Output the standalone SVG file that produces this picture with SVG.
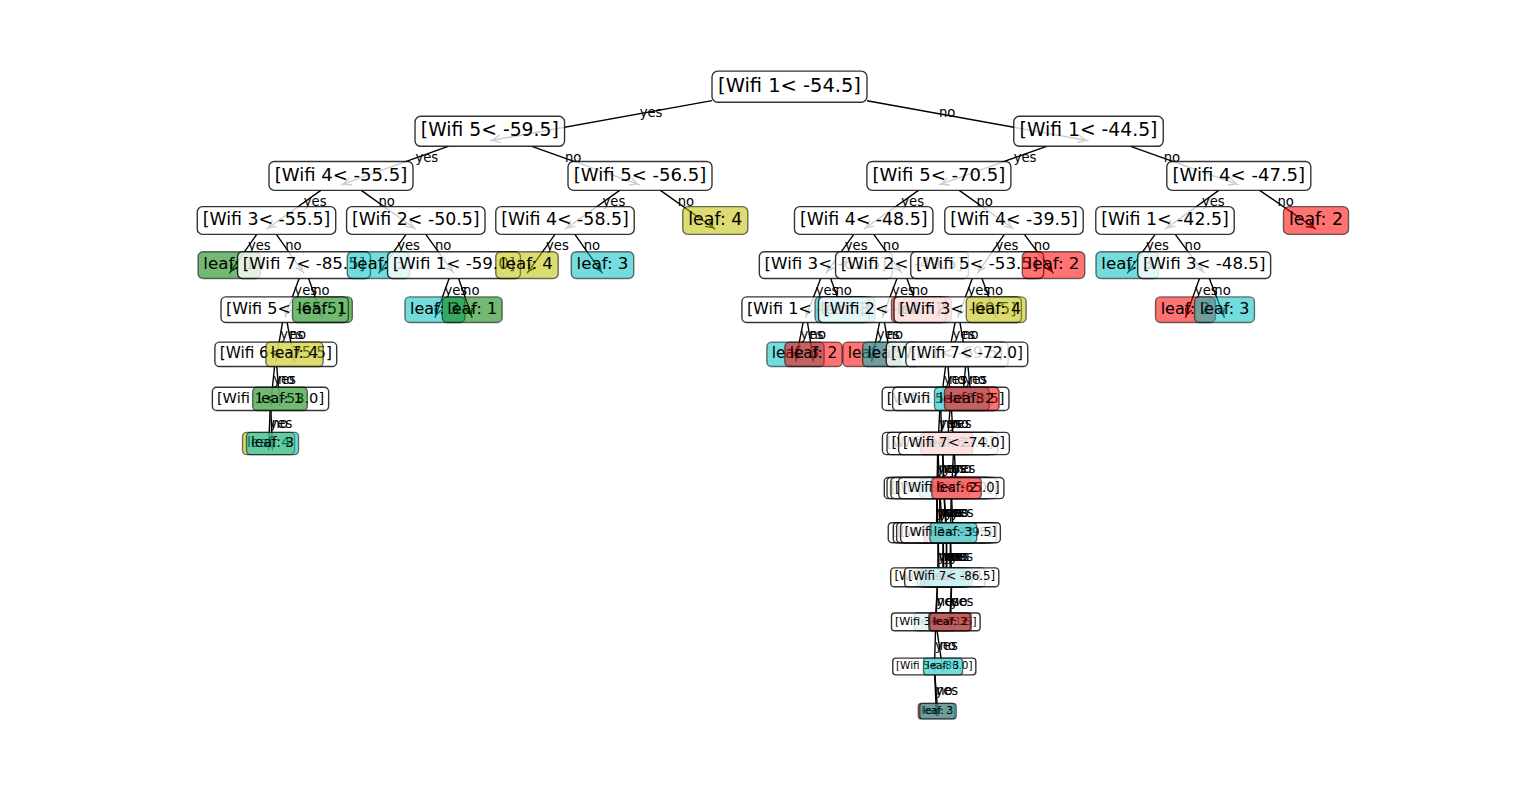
<svg xmlns="http://www.w3.org/2000/svg" width="1540" height="805" viewBox="0 0 1540 805">
<style>
.e line{stroke:#000;stroke-width:1.39;fill:none}
.mk{stroke:#000;stroke-width:1.39;fill:none}
.lb{font-family:'DejaVu Sans','Liberation Sans',sans-serif;font-size:13.2px;fill:#000}
.ni{fill:#fff;fill-opacity:.8;stroke:#000;stroke-opacity:.8;stroke-width:1.39}
.k1,.k2,.k3,.k4{fill-opacity:.55;stroke:#000;stroke-opacity:.55;stroke-width:1.39}
.k1{fill:#008000}.k2{fill:#ff0000}.k3{fill:#00bfbf}.k4{fill:#bfbf00}
.tx{font-family:'DejaVu Sans','Liberation Sans',sans-serif;text-anchor:middle;fill:#000}
.f1{font-size:19.44px}.f2{font-size:18.75px}.f3{font-size:18.06px}.f4{font-size:17.36px}.f5{font-size:16.67px}
.f6{font-size:15.97px}.f7{font-size:15.28px}.f8{font-size:14.58px}.f9{font-size:13.89px}.f10{font-size:13.19px}
.f11{font-size:12.5px}.f12{font-size:11.81px}.f13{font-size:11.11px}.f14{font-size:10.42px}.f15{font-size:9.72px}
</style>
<defs>
<marker id="m1" markerUnits="userSpaceOnUse" viewBox="-14 -6 16 12" markerWidth="16" markerHeight="12" refX="0" refY="0" orient="auto"><path class="mk" d="M-10.56,-3.89L-2.78,0L-10.56,3.89"/></marker>
<marker id="m2" markerUnits="userSpaceOnUse" viewBox="-14 -6 16 12" markerWidth="16" markerHeight="12" refX="0" refY="0" orient="auto"><path class="mk" d="M-10.28,-3.75L-2.78,0L-10.28,3.75"/></marker>
<marker id="m3" markerUnits="userSpaceOnUse" viewBox="-14 -6 16 12" markerWidth="16" markerHeight="12" refX="0" refY="0" orient="auto"><path class="mk" d="M-10,-3.61L-2.78,0L-10,3.61"/></marker>
<marker id="m4" markerUnits="userSpaceOnUse" viewBox="-14 -6 16 12" markerWidth="16" markerHeight="12" refX="0" refY="0" orient="auto"><path class="mk" d="M-9.72,-3.47L-2.78,0L-9.72,3.47"/></marker>
<marker id="m5" markerUnits="userSpaceOnUse" viewBox="-14 -6 16 12" markerWidth="16" markerHeight="12" refX="0" refY="0" orient="auto"><path class="mk" d="M-9.45,-3.33L-2.78,0L-9.45,3.33"/></marker>
<marker id="m6" markerUnits="userSpaceOnUse" viewBox="-14 -6 16 12" markerWidth="16" markerHeight="12" refX="0" refY="0" orient="auto"><path class="mk" d="M-9.17,-3.19L-2.78,0L-9.17,3.19"/></marker>
<marker id="m7" markerUnits="userSpaceOnUse" viewBox="-14 -6 16 12" markerWidth="16" markerHeight="12" refX="0" refY="0" orient="auto"><path class="mk" d="M-8.89,-3.06L-2.78,0L-8.89,3.06"/></marker>
<marker id="m8" markerUnits="userSpaceOnUse" viewBox="-14 -6 16 12" markerWidth="16" markerHeight="12" refX="0" refY="0" orient="auto"><path class="mk" d="M-8.61,-2.92L-2.78,0L-8.61,2.92"/></marker>
<marker id="m9" markerUnits="userSpaceOnUse" viewBox="-14 -6 16 12" markerWidth="16" markerHeight="12" refX="0" refY="0" orient="auto"><path class="mk" d="M-8.34,-2.78L-2.78,0L-8.34,2.78"/></marker>
<marker id="m10" markerUnits="userSpaceOnUse" viewBox="-14 -6 16 12" markerWidth="16" markerHeight="12" refX="0" refY="0" orient="auto"><path class="mk" d="M-8.06,-2.64L-2.78,0L-8.06,2.64"/></marker>
<marker id="m11" markerUnits="userSpaceOnUse" viewBox="-14 -6 16 12" markerWidth="16" markerHeight="12" refX="0" refY="0" orient="auto"><path class="mk" d="M-7.78,-2.5L-2.78,0L-7.78,2.5"/></marker>
<marker id="m12" markerUnits="userSpaceOnUse" viewBox="-14 -6 16 12" markerWidth="16" markerHeight="12" refX="0" refY="0" orient="auto"><path class="mk" d="M-7.5,-2.36L-2.78,0L-7.5,2.36"/></marker>
<marker id="m13" markerUnits="userSpaceOnUse" viewBox="-14 -6 16 12" markerWidth="16" markerHeight="12" refX="0" refY="0" orient="auto"><path class="mk" d="M-7.22,-2.22L-2.78,0L-7.22,2.22"/></marker>
<marker id="m14" markerUnits="userSpaceOnUse" viewBox="-14 -6 16 12" markerWidth="16" markerHeight="12" refX="0" refY="0" orient="auto"><path class="mk" d="M-6.95,-2.08L-2.78,0L-6.95,2.08"/></marker>
</defs>
<rect width="1540" height="805" fill="#fff"/>
<g id="connectors" class="e">
<g marker-end="url(#m1)">
<line x1="712.0" y1="100.66" x2="489.8" y2="140.7"/>
<line x1="867.0" y1="100.7" x2="1088.5" y2="140.7"/>
</g>
<g marker-end="url(#m2)">
<line x1="448.1" y1="146.3" x2="341.0" y2="184.9"/>
<line x1="531.9" y1="146.3" x2="640.0" y2="184.9"/>
<line x1="1046.6" y1="146.3" x2="938.9" y2="184.9"/>
<line x1="1130.6" y1="146.3" x2="1238.8" y2="184.9"/>
</g>
<g marker-end="url(#m3)">
<line x1="320.8" y1="190.34" x2="266.5" y2="229.2"/>
<line x1="361.3" y1="190.34" x2="415.8" y2="229.2"/>
<line x1="619.7" y1="190.34" x2="565.0" y2="229.2"/>
<line x1="660.4" y1="190.34" x2="715.3" y2="229.2"/>
<line x1="918.5" y1="190.34" x2="863.7" y2="229.2"/>
<line x1="959.25" y1="190.34" x2="1014.0" y2="229.2"/>
<line x1="1218.8" y1="190.34" x2="1165.0" y2="229.2"/>
<line x1="1259.7" y1="190.34" x2="1316.0" y2="229.2"/>
</g>
<g marker-end="url(#m4)">
<line x1="256.7" y1="234.39" x2="229.3" y2="273.4"/>
<line x1="276.35" y1="234.39" x2="304.0" y2="273.4"/>
<line x1="406.0" y1="234.39" x2="378.5" y2="273.4"/>
<line x1="425.8" y1="234.39" x2="454.0" y2="273.4"/>
<line x1="555.0" y1="234.39" x2="527.0" y2="273.4"/>
<line x1="574.85" y1="234.39" x2="602.5" y2="273.4"/>
<line x1="853.75" y1="234.39" x2="825.8" y2="273.4"/>
<line x1="873.76" y1="234.39" x2="902.0" y2="273.4"/>
<line x1="1004.34" y1="234.39" x2="977.2" y2="273.4"/>
<line x1="1024.37" y1="234.39" x2="1053.5" y2="273.4"/>
<line x1="1155.07" y1="234.39" x2="1127.2" y2="273.4"/>
<line x1="1175.29" y1="234.39" x2="1204.2" y2="273.4"/>
</g>
<g marker-end="url(#m5)">
<line x1="299.1" y1="278.43" x2="284.7" y2="317.7"/>
<line x1="308.66" y1="278.43" x2="322.4" y2="317.7"/>
<line x1="449.16" y1="278.43" x2="434.9" y2="317.7"/>
<line x1="458.61" y1="278.43" x2="472.2" y2="317.7"/>
<line x1="820.68" y1="278.43" x2="805.6" y2="317.7"/>
<line x1="830.67" y1="278.43" x2="845.0" y2="317.7"/>
<line x1="896.98" y1="278.43" x2="882.2" y2="317.7"/>
<line x1="906.92" y1="278.43" x2="921.4" y2="317.7"/>
<line x1="972.26" y1="278.43" x2="957.7" y2="317.7"/>
<line x1="982.01" y1="278.43" x2="996.2" y2="317.7"/>
<line x1="1199.46" y1="278.43" x2="1185.5" y2="317.7"/>
<line x1="1209.34" y1="278.43" x2="1224.5" y2="317.7"/>
</g>
<g marker-end="url(#m6)">
<line x1="282.52" y1="322.48" x2="275.8" y2="361.9"/>
<line x1="287.1" y1="322.48" x2="294.5" y2="361.9"/>
<line x1="803.13" y1="322.48" x2="795.5" y2="361.9"/>
<line x1="807.53" y1="322.48" x2="813.5" y2="361.9"/>
<line x1="879.58" y1="322.48" x2="871.5" y2="361.9"/>
<line x1="884.43" y1="322.48" x2="891.3" y2="361.9"/>
<line x1="955.13" y1="322.48" x2="947.2" y2="361.9"/>
<line x1="959.93" y1="322.48" x2="966.8" y2="361.9"/>
</g>
<g marker-end="url(#m7)">
<line x1="274.55" y1="366.52" x2="270.5" y2="406.2"/>
<line x1="276.79" y1="366.52" x2="280.0" y2="406.2"/>
<line x1="945.58" y1="366.52" x2="940.3" y2="406.2"/>
<line x1="948.05" y1="366.52" x2="950.8" y2="406.2"/>
<line x1="965.62" y1="366.52" x2="961.8" y2="406.2"/>
<line x1="967.98" y1="366.52" x2="971.8" y2="406.2"/>
</g>
<g marker-end="url(#m8)">
<line x1="270.07" y1="410.57" x2="268.6" y2="450.4"/>
<line x1="270.95" y1="410.57" x2="272.5" y2="450.4"/>
<line x1="939.73" y1="410.57" x2="937.8" y2="450.4"/>
<line x1="940.78" y1="410.57" x2="942.4" y2="450.4"/>
<line x1="949.89" y1="410.57" x2="946.8" y2="450.4"/>
<line x1="951.53" y1="410.57" x2="954.0" y2="450.4"/>
</g>
<g marker-end="url(#m9)">
<line x1="937.6" y1="454.61" x2="936.9" y2="494.7"/>
<line x1="938.2" y1="454.61" x2="939.6" y2="494.7"/>
<line x1="942.7" y1="454.61" x2="943.6" y2="494.7"/>
<line x1="942.9" y1="454.61" x2="944.5" y2="494.7"/>
<line x1="953.4" y1="454.61" x2="951.3" y2="494.7"/>
<line x1="954.5" y1="454.61" x2="956.5" y2="494.7"/>
</g>
<g marker-end="url(#m10)">
<line x1="936.8" y1="498.66" x2="936.5" y2="539.0"/>
<line x1="937.15" y1="498.66" x2="938.1" y2="539.0"/>
<line x1="939.7" y1="498.66" x2="940.0" y2="539.0"/>
<line x1="940.3" y1="498.66" x2="943.1" y2="539.0"/>
<line x1="944.2" y1="498.66" x2="946.5" y2="539.0"/>
<line x1="944.4" y1="498.66" x2="947.5" y2="539.0"/>
<line x1="951.1" y1="498.66" x2="950.5" y2="539.0"/>
<line x1="951.7" y1="498.66" x2="953.3" y2="539.0"/>
</g>
<g marker-end="url(#m11)">
<line x1="938.0" y1="542.7" x2="937.8" y2="583.2"/>
<line x1="938.3" y1="542.7" x2="939.3" y2="583.2"/>
<line x1="943.0" y1="542.7" x2="942.8" y2="583.2"/>
<line x1="943.3" y1="542.7" x2="944.0" y2="583.2"/>
<line x1="946.4" y1="542.7" x2="946.2" y2="583.2"/>
<line x1="946.6" y1="542.7" x2="947.0" y2="583.2"/>
<line x1="950.4" y1="542.7" x2="950.0" y2="583.2"/>
<line x1="950.7" y1="542.7" x2="951.7" y2="583.2"/>
</g>
<g marker-end="url(#m12)">
<line x1="937.3" y1="586.74" x2="935.0" y2="627.5"/>
<line x1="937.4" y1="586.74" x2="935.8" y2="627.5"/>
<line x1="951.3" y1="586.74" x2="949.5" y2="627.5"/>
<line x1="951.5" y1="586.74" x2="950.5" y2="627.5"/>
</g>
<g marker-end="url(#m13)">
<line x1="935.5" y1="630.79" x2="934.3" y2="671.7"/>
<line x1="937.1" y1="630.79" x2="943.0" y2="671.7"/>
</g>
<g marker-end="url(#m14)">
<line x1="934.7" y1="674.83" x2="936.5" y2="716.0"/>
<line x1="934.9" y1="674.83" x2="938.0" y2="716.0"/>
</g>
<g id="edge-labels" class="lb">
<text x="639.65" y="117.1">yes</text><text x="939.0" y="117.1">no</text>
<text x="415.4" y="161.5">yes</text><text x="564.9" y="161.5">no</text><text x="1013.7" y="161.5">yes</text><text x="1163.65" y="161.5">no</text>
<text x="303.75" y="205.95">yes</text><text x="378.4" y="205.95">no</text><text x="602.5" y="205.95">yes</text><text x="677.65" y="205.95">no</text><text x="901.3" y="205.95">yes</text><text x="976.45" y="205.95">no</text><text x="1201.9" y="205.95">yes</text><text x="1277.4" y="205.95">no</text>
<text x="247.9" y="250.35">yes</text><text x="285.25" y="250.35">no</text><text x="397.15" y="250.35">yes</text><text x="434.9" y="250.35">no</text><text x="546.0" y="250.35">yes</text><text x="583.75" y="250.35">no</text><text x="844.75" y="250.35">yes</text><text x="882.85" y="250.35">no</text><text x="995.6" y="250.35">yes</text><text x="1033.75" y="250.35">no</text><text x="1146.1" y="250.35">yes</text><text x="1184.6" y="250.35">no</text>
<text x="294.35" y="294.8">yes</text><text x="313.2" y="294.8">no</text><text x="444.45" y="294.8">yes</text><text x="463.1" y="294.8">no</text><text x="815.7" y="294.8">yes</text><text x="835.4" y="294.8">no</text><text x="892.1" y="294.8">yes</text><text x="911.7" y="294.8">no</text><text x="967.45" y="294.8">yes</text><text x="986.7" y="294.8">no</text><text x="1194.85" y="294.8">yes</text><text x="1214.35" y="294.8">no</text>
<text x="280.25" y="339.2">yes</text><text x="289.6" y="339.2">no</text><text x="800.55" y="339.2">yes</text><text x="809.55" y="339.2">no</text><text x="876.85" y="339.2">yes</text><text x="886.75" y="339.2">no</text><text x="952.45" y="339.2">yes</text><text x="962.25" y="339.2">no</text>
<text x="273.15" y="383.65">yes</text><text x="277.9" y="383.65">no</text><text x="943.75" y="383.65">yes</text><text x="949.0" y="383.65">no</text><text x="964.3" y="383.65">yes</text><text x="969.3" y="383.65">no</text>
<text x="269.55" y="428.05">yes</text><text x="271.5" y="428.05">no</text><text x="939.05" y="428.05">yes</text><text x="941.35" y="428.05">no</text><text x="948.8" y="428.05">yes</text><text x="952.4" y="428.05">no</text>
<text x="937.35" y="472.5">yes</text><text x="938.7" y="472.5">no</text><text x="943.0" y="472.5">yes</text><text x="943.45" y="472.5">no</text><text x="952.65" y="472.5">yes</text><text x="955.25" y="472.5">no</text>
<text x="936.7" y="516.95">yes</text><text x="937.5" y="516.95">no</text><text x="939.8" y="516.95">yes</text><text x="941.35" y="516.95">no</text><text x="945.05" y="516.95">yes</text><text x="945.55" y="516.95">no</text><text x="950.9" y="516.95">yes</text><text x="952.3" y="516.95">no</text>
<text x="937.95" y="561.35">yes</text><text x="938.7" y="561.35">no</text><text x="942.95" y="561.35">yes</text><text x="943.55" y="561.35">no</text><text x="946.35" y="561.35">yes</text><text x="946.75" y="561.35">no</text><text x="950.25" y="561.35">yes</text><text x="951.1" y="561.35">no</text>
<text x="936.4" y="605.8">yes</text><text x="936.8" y="605.8">no</text><text x="950.6" y="605.8">yes</text><text x="951.1" y="605.8">no</text>
<text x="935.05" y="650.2">yes</text><text x="939.4" y="650.2">no</text>
<text x="935.4" y="694.65">yes</text><text x="936.15" y="694.65">no</text>
</g>
</g>
<g id="nodes">
<g id="n1"><rect class="ni" x="712.0" y="71.14" width="155.0" height="31.11" rx="5.83"/><text class="tx f1" x="789.5" y="91.76">[Wifi 1&lt; -54.5]</text></g>
<g id="n2"><rect class="ni" x="415.04" y="116.3" width="149.52" height="30.0" rx="5.63"/><text class="tx f2" x="489.8" y="136.18">[Wifi 5&lt; -59.5]</text></g>
<g id="n3"><rect class="ni" x="1013.74" y="116.3" width="149.52" height="30.0" rx="5.63"/><text class="tx f2" x="1088.5" y="136.18">[Wifi 1&lt; -44.5]</text></g>
<g id="n4"><rect class="ni" x="269.0" y="161.46" width="144.0" height="28.89" rx="5.42"/><text class="tx f3" x="341.0" y="180.59">[Wifi 4&lt; -55.5]</text></g>
<g id="n5"><rect class="ni" x="568.0" y="161.46" width="144.0" height="28.89" rx="5.42"/><text class="tx f3" x="640.0" y="180.59">[Wifi 5&lt; -56.5]</text></g>
<g id="n6"><rect class="ni" x="866.9" y="161.46" width="144.0" height="28.89" rx="5.42"/><text class="tx f3" x="938.9" y="180.59">[Wifi 5&lt; -70.5]</text></g>
<g id="n7"><rect class="ni" x="1166.8" y="161.46" width="144.0" height="28.89" rx="5.42"/><text class="tx f3" x="1238.8" y="180.59">[Wifi 4&lt; -47.5]</text></g>
<g id="n8"><rect class="ni" x="197.28" y="206.61" width="138.44" height="27.78" rx="5.21"/><text class="tx f4" x="266.5" y="225.01">[Wifi 3&lt; -55.5]</text></g>
<g id="n9"><rect class="ni" x="346.58" y="206.61" width="138.44" height="27.78" rx="5.21"/><text class="tx f4" x="415.8" y="225.01">[Wifi 2&lt; -50.5]</text></g>
<g id="n10"><rect class="ni" x="495.78" y="206.61" width="138.44" height="27.78" rx="5.21"/><text class="tx f4" x="565.0" y="225.01">[Wifi 4&lt; -58.5]</text></g>
<g id="n11"><rect class="k4" x="682.75" y="206.61" width="65.1" height="27.78" rx="5.21"/><text class="tx f4" x="715.3" y="225.01">leaf: 4</text></g>
<g id="n12"><rect class="ni" x="794.48" y="206.61" width="138.44" height="27.78" rx="5.21"/><text class="tx f4" x="863.7" y="225.01">[Wifi 4&lt; -48.5]</text></g>
<g id="n13"><rect class="ni" x="944.78" y="206.61" width="138.44" height="27.78" rx="5.21"/><text class="tx f4" x="1014.0" y="225.01">[Wifi 4&lt; -39.5]</text></g>
<g id="n14"><rect class="ni" x="1095.78" y="206.61" width="138.44" height="27.78" rx="5.21"/><text class="tx f4" x="1165.0" y="225.01">[Wifi 1&lt; -42.5]</text></g>
<g id="n15"><rect class="k2" x="1283.45" y="206.61" width="65.1" height="27.78" rx="5.21"/><text class="tx f4" x="1316.0" y="225.01">leaf: 2</text></g>
<g id="n16"><rect class="k1" x="198.06" y="251.77" width="62.48" height="26.67" rx="5.0"/><text class="tx f5" x="229.3" y="269.43">leaf: 1</text></g>
<g id="n17"><rect class="ni" x="237.55" y="251.77" width="132.9" height="26.67" rx="5.0"/><text class="tx f5" x="304.0" y="269.43">[Wifi 7&lt; -85.5]</text></g>
<g id="n18"><rect class="k3" x="347.26" y="251.77" width="62.48" height="26.67" rx="5.0"/><text class="tx f5" x="378.5" y="269.43">leaf: 3</text></g>
<g id="n19"><rect class="ni" x="387.55" y="251.77" width="132.9" height="26.67" rx="5.0"/><text class="tx f5" x="454.0" y="269.43">[Wifi 1&lt; -59.0]</text></g>
<g id="n20"><rect class="k4" x="495.76" y="251.77" width="62.48" height="26.67" rx="5.0"/><text class="tx f5" x="527.0" y="269.43">leaf: 4</text></g>
<g id="n21"><rect class="k3" x="571.26" y="251.77" width="62.48" height="26.67" rx="5.0"/><text class="tx f5" x="602.5" y="269.43">leaf: 3</text></g>
<g id="n22"><rect class="ni" x="759.35" y="251.77" width="132.9" height="26.67" rx="5.0"/><text class="tx f5" x="825.8" y="269.43">[Wifi 3&lt; -63.5]</text></g>
<g id="n23"><rect class="ni" x="835.55" y="251.77" width="132.9" height="26.67" rx="5.0"/><text class="tx f5" x="902.0" y="269.43">[Wifi 2&lt; -49.5]</text></g>
<g id="n24"><rect class="ni" x="910.75" y="251.77" width="132.9" height="26.67" rx="5.0"/><text class="tx f5" x="977.2" y="269.43">[Wifi 5&lt; -53.5]</text></g>
<g id="n25"><rect class="k2" x="1022.26" y="251.77" width="62.48" height="26.67" rx="5.0"/><text class="tx f5" x="1053.5" y="269.43">leaf: 2</text></g>
<g id="n26"><rect class="k3" x="1095.96" y="251.77" width="62.48" height="26.67" rx="5.0"/><text class="tx f5" x="1127.2" y="269.43">leaf: 3</text></g>
<g id="n27"><rect class="ni" x="1137.75" y="251.77" width="132.9" height="26.67" rx="5.0"/><text class="tx f5" x="1204.2" y="269.43">[Wifi 3&lt; -48.5]</text></g>
<g id="n28"><rect class="ni" x="221.02" y="296.92" width="127.36" height="25.56" rx="4.79"/><text class="tx f6" x="284.7" y="313.85">[Wifi 5&lt; -65.5]</text></g>
<g id="n29"><rect class="k1" x="292.46" y="296.92" width="59.88" height="25.56" rx="4.79"/><text class="tx f6" x="322.4" y="313.85">leaf: 1</text></g>
<g id="n30"><rect class="k3" x="404.96" y="296.92" width="59.88" height="25.56" rx="4.79"/><text class="tx f6" x="434.9" y="313.85">leaf: 3</text></g>
<g id="n31"><rect class="k1" x="442.26" y="296.92" width="59.88" height="25.56" rx="4.79"/><text class="tx f6" x="472.2" y="313.85">leaf: 1</text></g>
<g id="n32"><rect class="ni" x="741.92" y="296.92" width="127.36" height="25.56" rx="4.79"/><text class="tx f6" x="805.6" y="313.85">[Wifi 1&lt; -75.5]</text></g>
<g id="n33"><rect class="k3" x="815.06" y="296.92" width="59.88" height="25.56" rx="4.79"/><text class="tx f6" x="845.0" y="313.85">leaf: 3</text></g>
<g id="n34"><rect class="ni" x="818.52" y="296.92" width="127.36" height="25.56" rx="4.79"/><text class="tx f6" x="882.2" y="313.85">[Wifi 2&lt; -57.5]</text></g>
<g id="n35"><rect class="k2" x="891.46" y="296.92" width="59.88" height="25.56" rx="4.79"/><text class="tx f6" x="921.4" y="313.85">leaf: 2</text></g>
<g id="n36"><rect class="ni" x="894.02" y="296.92" width="127.36" height="25.56" rx="4.79"/><text class="tx f6" x="957.7" y="313.85">[Wifi 3&lt; -60.5]</text></g>
<g id="n37"><rect class="k4" x="966.26" y="296.92" width="59.88" height="25.56" rx="4.79"/><text class="tx f6" x="996.2" y="313.85">leaf: 4</text></g>
<g id="n38"><rect class="k2" x="1155.56" y="296.92" width="59.88" height="25.56" rx="4.79"/><text class="tx f6" x="1185.5" y="313.85">leaf: 2</text></g>
<g id="n39"><rect class="k3" x="1194.56" y="296.92" width="59.88" height="25.56" rx="4.79"/><text class="tx f6" x="1224.5" y="313.85">leaf: 3</text></g>
<g id="n40"><rect class="ni" x="214.89" y="342.08" width="121.82" height="24.44" rx="4.58"/><text class="tx f7" x="275.8" y="358.27">[Wifi 6&lt; -75.5]</text></g>
<g id="n41"><rect class="k4" x="265.86" y="342.08" width="57.28" height="24.44" rx="4.58"/><text class="tx f7" x="294.5" y="358.27">leaf: 4</text></g>
<g id="n42"><rect class="k3" x="766.86" y="342.08" width="57.28" height="24.44" rx="4.58"/><text class="tx f7" x="795.5" y="358.27">leaf: 3</text></g>
<g id="n43"><rect class="k2" x="784.86" y="342.08" width="57.28" height="24.44" rx="4.58"/><text class="tx f7" x="813.5" y="358.27">leaf: 2</text></g>
<g id="n44"><rect class="k2" x="842.86" y="342.08" width="57.28" height="24.44" rx="4.58"/><text class="tx f7" x="871.5" y="358.27">leaf: 2</text></g>
<g id="n45"><rect class="k3" x="862.66" y="342.08" width="57.28" height="24.44" rx="4.58"/><text class="tx f7" x="891.3" y="358.27">leaf: 3</text></g>
<g id="n46"><rect class="ni" x="886.29" y="342.08" width="121.82" height="24.44" rx="4.58"/><text class="tx f7" x="947.2" y="358.27">[Wifi 1&lt; -69.5]</text></g>
<g id="n47"><rect class="ni" x="905.89" y="342.08" width="121.82" height="24.44" rx="4.58"/><text class="tx f7" x="966.8" y="358.27">[Wifi 7&lt; -72.0]</text></g>
<g id="n48"><rect class="ni" x="212.36" y="387.23" width="116.28" height="23.33" rx="4.38"/><text class="tx f8" x="270.5" y="402.69">[Wifi 1&lt; -53.0]</text></g>
<g id="n49"><rect class="k1" x="252.66" y="387.23" width="54.68" height="23.33" rx="4.38"/><text class="tx f8" x="280.0" y="402.69">leaf: 1</text></g>
<g id="n50"><rect class="ni" x="882.16" y="387.23" width="116.28" height="23.33" rx="4.38"/><text class="tx f8" x="940.3" y="402.69">[Wifi 1&lt; -80.5]</text></g>
<g id="n51"><rect class="ni" x="892.66" y="387.23" width="116.28" height="23.33" rx="4.38"/><text class="tx f8" x="950.8" y="402.69">[Wifi 5&lt; -58.5]</text></g>
<g id="n52"><rect class="k3" x="934.46" y="387.23" width="54.68" height="23.33" rx="4.38"/><text class="tx f8" x="961.8" y="402.69">leaf: 3</text></g>
<g id="n53"><rect class="k2" x="944.46" y="387.23" width="54.68" height="23.33" rx="4.38"/><text class="tx f8" x="971.8" y="402.69">leaf: 2</text></g>
<g id="n54"><rect class="k4" x="242.57" y="432.39" width="52.06" height="22.22" rx="4.17"/><text class="tx f9" x="268.6" y="447.11">leaf: 4</text></g>
<g id="n55"><rect class="k3" x="246.47" y="432.39" width="52.06" height="22.22" rx="4.17"/><text class="tx f9" x="272.5" y="447.11">leaf: 3</text></g>
<g id="n56"><rect class="ni" x="882.43" y="432.39" width="110.74" height="22.22" rx="4.17"/><text class="tx f9" x="937.8" y="447.11">[Wifi 2&lt; -66.5]</text></g>
<g id="n57"><rect class="ni" x="887.03" y="432.39" width="110.74" height="22.22" rx="4.17"/><text class="tx f9" x="942.4" y="447.11">[Wifi 6&lt; -62.0]</text></g>
<g id="n58"><rect class="k2" x="920.77" y="432.39" width="52.06" height="22.22" rx="4.17"/><text class="tx f9" x="946.8" y="447.11">leaf: 2</text></g>
<g id="n59"><rect class="ni" x="898.63" y="432.39" width="110.74" height="22.22" rx="4.17"/><text class="tx f9" x="954.0" y="447.11">[Wifi 7&lt; -74.0]</text></g>
<g id="n60"><rect class="ni" x="884.3" y="477.54" width="105.2" height="21.11" rx="3.96"/><text class="tx f10" x="936.9" y="491.53">[Wifi 1&lt; -58.5]</text></g>
<g id="n61"><rect class="ni" x="887.0" y="477.54" width="105.2" height="21.11" rx="3.96"/><text class="tx f10" x="939.6" y="491.53">[Wifi 4&lt; -60.5]</text></g>
<g id="n62"><rect class="ni" x="891.0" y="477.54" width="105.2" height="21.11" rx="3.96"/><text class="tx f10" x="943.6" y="491.53">[Wifi 5&lt; -78.0]</text></g>
<g id="n63"><rect class="k3" x="919.77" y="477.54" width="49.46" height="21.11" rx="3.96"/><text class="tx f10" x="944.5" y="491.53">leaf: 3</text></g>
<g id="n64"><rect class="ni" x="898.7" y="477.54" width="105.2" height="21.11" rx="3.96"/><text class="tx f10" x="951.3" y="491.53">[Wifi 6&lt; -65.0]</text></g>
<g id="n65"><rect class="k2" x="931.77" y="477.54" width="49.46" height="21.11" rx="3.96"/><text class="tx f10" x="956.5" y="491.53">leaf: 2</text></g>
<g id="n66"><rect class="k2" x="913.07" y="522.7" width="46.86" height="20.0" rx="3.75"/><text class="tx f11" x="936.5" y="535.95">leaf: 2</text></g>
<g id="n67"><rect class="ni" x="888.26" y="522.7" width="99.68" height="20.0" rx="3.75"/><text class="tx f11" x="938.1" y="535.95">[Wifi 7&lt; -81.5]</text></g>
<g id="n68"><rect class="k3" x="916.57" y="522.7" width="46.86" height="20.0" rx="3.75"/><text class="tx f11" x="940.0" y="535.95">leaf: 3</text></g>
<g id="n69"><rect class="ni" x="893.26" y="522.7" width="99.68" height="20.0" rx="3.75"/><text class="tx f11" x="943.1" y="535.95">[Wifi 3&lt; -57.0]</text></g>
<g id="n70"><rect class="ni" x="896.66" y="522.7" width="99.68" height="20.0" rx="3.75"/><text class="tx f11" x="946.5" y="535.95">[Wifi 1&lt; -61.5]</text></g>
<g id="n71"><rect class="k2" x="924.07" y="522.7" width="46.86" height="20.0" rx="3.75"/><text class="tx f11" x="947.5" y="535.95">leaf: 2</text></g>
<g id="n72"><rect class="ni" x="900.66" y="522.7" width="99.68" height="20.0" rx="3.75"/><text class="tx f11" x="950.5" y="535.95">[Wifi 3&lt; -39.5]</text></g>
<g id="n73"><rect class="k3" x="929.87" y="522.7" width="46.86" height="20.0" rx="3.75"/><text class="tx f11" x="953.3" y="535.95">leaf: 3</text></g>
<g id="n74"><rect class="ni" x="890.73" y="567.86" width="94.14" height="18.89" rx="3.54"/><text class="tx f12" x="937.8" y="580.37">[Wifi 1&lt; -63.0]</text></g>
<g id="n75"><rect class="k3" x="917.17" y="567.86" width="44.26" height="18.89" rx="3.54"/><text class="tx f12" x="939.3" y="580.37">leaf: 3</text></g>
<g id="n76"><rect class="k3" x="920.67" y="567.86" width="44.26" height="18.89" rx="3.54"/><text class="tx f12" x="942.8" y="580.37">leaf: 3</text></g>
<g id="n77"><rect class="k3" x="921.87" y="567.86" width="44.26" height="18.89" rx="3.54"/><text class="tx f12" x="944.0" y="580.37">leaf: 3</text></g>
<g id="n78"><rect class="k3" x="924.07" y="567.86" width="44.26" height="18.89" rx="3.54"/><text class="tx f12" x="946.2" y="580.37">leaf: 3</text></g>
<g id="n79"><rect class="k3" x="924.87" y="567.86" width="44.26" height="18.89" rx="3.54"/><text class="tx f12" x="947.0" y="580.37">leaf: 3</text></g>
<g id="n80"><rect class="k3" x="927.87" y="567.86" width="44.26" height="18.89" rx="3.54"/><text class="tx f12" x="950.0" y="580.37">leaf: 3</text></g>
<g id="n81"><rect class="ni" x="904.63" y="567.86" width="94.14" height="18.89" rx="3.54"/><text class="tx f12" x="951.7" y="580.37">[Wifi 7&lt; -86.5]</text></g>
<g id="n82"><rect class="k3" x="914.17" y="613.01" width="41.66" height="17.78" rx="3.33"/><text class="tx f13" x="935.0" y="624.79">leaf: 3</text></g>
<g id="n83"><rect class="ni" x="891.5" y="613.01" width="88.6" height="17.78" rx="3.33"/><text class="tx f13" x="935.8" y="624.79">[Wifi 3&lt; -71.5]</text></g>
<g id="n84"><rect class="k3" x="928.67" y="613.01" width="41.66" height="17.78" rx="3.33"/><text class="tx f13" x="949.5" y="624.79">leaf: 3</text></g>
<g id="n85"><rect class="k2" x="929.67" y="613.01" width="41.66" height="17.78" rx="3.33"/><text class="tx f13" x="950.5" y="624.79">leaf: 2</text></g>
<g id="n86"><rect class="ni" x="892.77" y="658.17" width="83.06" height="16.67" rx="3.13"/><text class="tx f14" x="934.3" y="669.21">[Wifi 5&lt; -86.0]</text></g>
<g id="n87"><rect class="k3" x="923.47" y="658.17" width="39.06" height="16.67" rx="3.13"/><text class="tx f14" x="943.0" y="669.21">leaf: 3</text></g>
<g id="n88"><rect class="k2" x="918.28" y="703.32" width="36.44" height="15.56" rx="2.92"/><text class="tx f15" x="936.5" y="713.63">leaf: 2</text></g>
<g id="n89"><rect class="k3" x="919.78" y="703.32" width="36.44" height="15.56" rx="2.92"/><text class="tx f15" x="938.0" y="713.63">leaf: 3</text></g>
</g>
</svg>
